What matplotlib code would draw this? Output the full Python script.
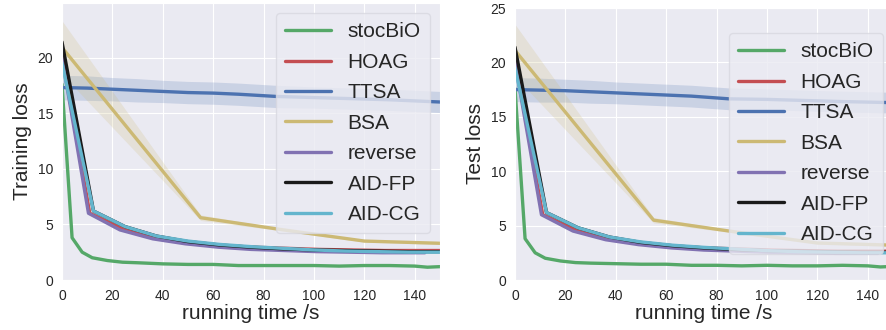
import numpy as np
import matplotlib
matplotlib.use("Agg")
import matplotlib.pyplot as plt
import seaborn as sns

sns.set_style("darkgrid")
plt.rcParams['font.family'] = ['Liberation Sans', 'DejaVu Sans']

labels = ['stocBiO', 'HOAG', 'TTSA', 'BSA', 'reverse', 'AID-FP', 'AID-CG']
colors = ['#55A868', '#C44E52', '#4C72B0', '#CCB974', '#8172B2', '#1a1a1a', '#64B5CD']

# time axes (s)
t_stoc = [0, 4, 8, 12, 18, 24, 30, 40, 50, 60, 70, 80, 90, 100, 110, 120, 130, 140, 145, 150]
t_hoag = [0, 11, 24, 37, 50, 63, 76, 89, 102, 115, 128, 141, 150]
t_rev = [0, 10.5, 23, 36, 49, 62, 75, 88, 101, 114, 127, 140, 144]
t_aid = [0, 12.5, 25, 37.5, 50, 62.5, 75, 87.5, 100, 112.5, 125, 137.5, 150]
t_ttsa = [0, 10, 20, 30, 40, 50, 60, 70, 85, 100, 115, 130, 150]
t_bsa = [0, 55, 88, 120, 150]

# training loss
tr_stoc = [17.6, 3.8, 2.5, 2.0, 1.75, 1.6, 1.55, 1.45, 1.4, 1.4, 1.3, 1.3, 1.3, 1.3, 1.25, 1.3, 1.3, 1.25, 1.15, 1.2]
tr_hoag = [20.3, 6.0, 4.6, 3.8, 3.4, 3.1, 2.95, 2.85, 2.75, 2.7, 2.65, 2.65, 2.65]
tr_rev = [20.0, 6.0, 4.5, 3.7, 3.25, 2.95, 2.75, 2.65, 2.55, 2.5, 2.45, 2.45, 2.45]
tr_fp = [21.4, 6.2, 4.8, 3.95, 3.45, 3.15, 2.95, 2.8, 2.7, 2.65, 2.6, 2.55, 2.55]
tr_cg = [19.5, 6.2, 4.8, 3.95, 3.5, 3.2, 3.0, 2.85, 2.7, 2.6, 2.55, 2.5, 2.5]
tr_ttsa = [17.3, 17.25, 17.15, 17.05, 16.95, 16.85, 16.8, 16.7, 16.5, 16.4, 16.3, 16.2, 16.0]
tr_ttsa_sd = [1.1, 1.1, 1.05, 1.05, 1.0, 1.0, 1.0, 1.0, 1.0, 0.95, 0.95, 0.95, 0.95]
tr_bsa = [20.9, 5.6, 4.5, 3.5, 3.3]
tr_bsa_sd = [2.4, 0.25, 0.1, 0.1, 0.1]

# test loss
te_stoc = [17.6, 3.8, 2.5, 2.0, 1.75, 1.6, 1.55, 1.5, 1.45, 1.45, 1.35, 1.35, 1.3, 1.35, 1.3, 1.3, 1.35, 1.3, 1.2, 1.25]
te_hoag = [20.3, 6.0, 4.6, 3.8, 3.4, 3.1, 2.95, 2.85, 2.75, 2.7, 2.65, 2.65, 2.65]
te_rev = [20.0, 6.0, 4.5, 3.7, 3.25, 2.95, 2.75, 2.65, 2.55, 2.5, 2.45, 2.45, 2.45]
te_fp = [21.4, 6.2, 4.8, 3.95, 3.45, 3.15, 2.95, 2.8, 2.7, 2.65, 2.6, 2.55, 2.55]
te_cg = [19.5, 6.2, 4.8, 3.95, 3.5, 3.2, 3.0, 2.85, 2.7, 2.6, 2.55, 2.5, 2.5]
te_ttsa = [17.5, 17.45, 17.4, 17.3, 17.2, 17.1, 17.0, 16.9, 16.65, 16.6, 16.5, 16.4, 16.3]
te_ttsa_sd = [1.1, 1.1, 1.05, 1.05, 1.0, 1.0, 1.0, 1.0, 1.0, 0.95, 0.95, 0.95, 0.95]
te_bsa = [21.1, 5.5, 4.4, 3.4, 3.2]
te_bsa_sd = [2.4, 0.25, 0.1, 0.1, 0.1]


def draw(ax, stoc, hoag, ttsa, ttsa_sd, bsa, bsa_sd, rev, fp, cg):
    lw = 2.4
    ttsa, ttsa_sd = np.array(ttsa), np.array(ttsa_sd)
    bsa, bsa_sd = np.array(bsa), np.array(bsa_sd)
    ax.fill_between(t_ttsa, ttsa - ttsa_sd, ttsa + ttsa_sd, color=colors[2], alpha=0.2, lw=0)
    ax.fill_between(t_bsa, bsa - bsa_sd, bsa + bsa_sd, color=colors[3], alpha=0.2, lw=0)
    ax.plot(t_stoc, stoc, color=colors[0], lw=lw, label=labels[0])
    ax.plot(t_hoag, hoag, color=colors[1], lw=lw, label=labels[1])
    ax.plot(t_ttsa, ttsa, color=colors[2], lw=lw, label=labels[2])
    ax.plot(t_bsa, bsa, color=colors[3], lw=lw, label=labels[3])
    ax.plot(t_rev, rev, color=colors[4], lw=lw, label=labels[4])
    ax.plot(t_aid, fp, color=colors[5], lw=lw, label=labels[5])
    ax.plot(t_aid, cg, color=colors[6], lw=lw, label=labels[6])
    ax.set_xlim(0, 150)
    ax.set_xticks(range(0, 141, 20))
    ax.tick_params(labelsize=10, colors='#262626', pad=3)
    ax.set_xlabel("running time /s", fontsize=15, color='#262626', labelpad=1)


fig = plt.figure(figsize=(8.87, 3.30), dpi=100)
ax1 = fig.add_axes([62 / 887, 50 / 330, 378 / 887, 277 / 330])
ax2 = fig.add_axes([515 / 887, 50 / 330, 378 / 887, 272 / 330])

draw(ax1, tr_stoc, tr_hoag, tr_ttsa, tr_ttsa_sd, tr_bsa, tr_bsa_sd, tr_rev, tr_fp, tr_cg)
ax1.set_ylim(0, 24.9)
ax1.set_yticks([0, 5, 10, 15, 20])
ax1.set_ylabel("Training loss", fontsize=15, color='#262626')

draw(ax2, te_stoc, te_hoag, te_ttsa, te_ttsa_sd, te_bsa, te_bsa_sd, te_rev, te_fp, te_cg)
ax2.set_ylim(0, 25)
ax2.set_yticks([0, 5, 10, 15, 20, 25])
ax2.set_ylabel("Test loss", fontsize=15, color='#262626')

for ax, anchor in [(ax1, (0.974, 0.964)), (ax2, (0.974, 0.908))]:
    leg = ax.legend(loc='upper right', bbox_to_anchor=anchor, borderaxespad=0,
                    fontsize=15, labelspacing=0.55, handlelength=2.2,
                    handletextpad=0.8, borderpad=0.45, frameon=True)
    leg.get_frame().set_edgecolor('#d8d8e0')
    for t in leg.get_texts():
        t.set_color('#262626')

fig.savefig("out.png", dpi=100)
